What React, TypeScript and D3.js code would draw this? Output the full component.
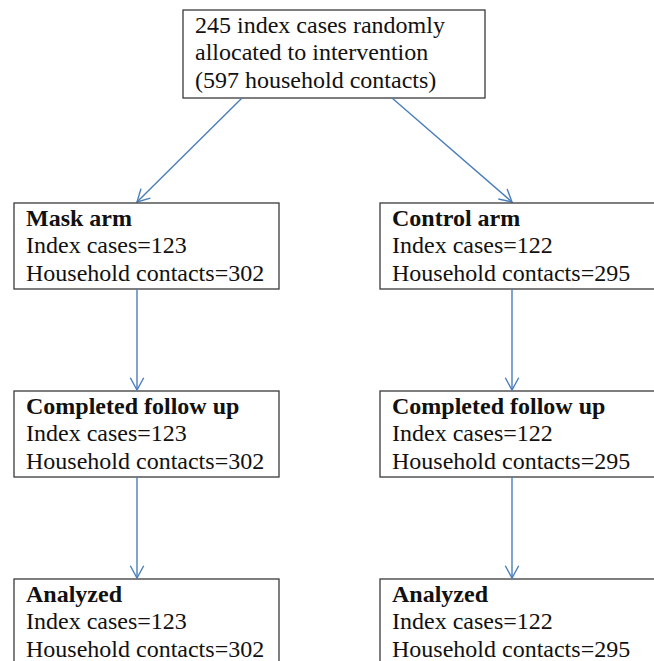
import React, { useEffect, useRef } from 'react';
import * as d3 from 'd3';

// flowchart content
const topLines = ['245 index cases randomly', 'allocated to intervention', '(597 household contacts)'];
const arms = ['Mask arm', 'Control arm'];
const stages = ['', 'Completed follow up', 'Analyzed'];
const indexCases = [123, 122];
const householdContacts = [302, 295];

const W = 654;
const H = 661;
const LINE = '#4a7ebb';
const BORDER = '#3a3a3a';
const FONT = '"Liberation Serif", "Times New Roman", serif';

export default function App() {
  const svgRef = useRef<SVGSVGElement>(null);

  useEffect(() => {
    if (!svgRef.current) return;
    const svg = d3.select(svgRef.current);
    svg.selectAll('*').remove();

    // layout: column left edges and row top edges
    const colX = d3.scaleOrdinal<number, number>().domain([0, 1]).range([14, 380]);
    const colW = d3.scaleOrdinal<number, number>().domain([0, 1]).range([265, 290]);
    const arrowX = d3.scaleOrdinal<number, number>().domain([0, 1]).range([137, 512]);
    const departX = d3.scaleOrdinal<number, number>().domain([0, 1]).range([242, 392]);
    const rowY = d3.scaleLinear().domain([0, 1]).range([203, 391]); // row i top = rowY(i)
    const boxH = 86;
    const lh = 27.5;

    const top = { x: 183, y: 10, w: 302, h: 88 };

    const drawBox = (x: number, y: number, w: number, h: number, lines: { t: string; bold?: boolean }[]) => {
      svg.append('rect')
        .attr('x', x).attr('y', y).attr('width', w).attr('height', h)
        .attr('fill', 'white').attr('stroke', BORDER).attr('stroke-width', 1.3);
      const txt = svg.append('text')
        .style('font-family', FONT).style('font-size', '24px').attr('fill', '#111');
      lines.forEach((l, i) => {
        txt.append('tspan')
          .attr('x', x + 12).attr('y', y + 22.5 + i * lh)
          .style('font-weight', l.bold ? 'bold' : 'normal')
          .text(l.t);
      });
    };

    const arrow = (x1: number, y1: number, x2: number, y2: number) => {
      svg.append('line')
        .attr('x1', x1).attr('y1', y1).attr('x2', x2).attr('y2', y2)
        .attr('stroke', LINE).attr('stroke-width', 1.4);
      const a = Math.atan2(y2 - y1, x2 - x1);
      const len = 14, spread = 0.5;
      const p = d3.path();
      p.moveTo(x2 - len * Math.cos(a - spread), y2 - len * Math.sin(a - spread));
      p.lineTo(x2, y2);
      p.lineTo(x2 - len * Math.cos(a + spread), y2 - len * Math.sin(a + spread));
      svg.append('path').attr('d', p.toString())
        .attr('fill', 'none').attr('stroke', LINE).attr('stroke-width', 1.4);
    };

    // top box
    drawBox(top.x, top.y, top.w, top.h, topLines.map(t => ({ t })));

    arms.forEach((arm, c) => {
      // from top box to arm box
      arrow(departX(c), top.y + top.h, arrowX(c), rowY(0) - 1);
      stages.forEach((stage, r) => {
        const y = rowY(r);
        const heading = r === 0 ? arm : stage;
        drawBox(colX(c), y, colW(c), boxH + (r === 2 ? 20 : 0), [
          { t: heading, bold: true },
          { t: `Index cases=${indexCases[c]}` },
          { t: `Household contacts=${householdContacts[c]}` },
        ]);
        if (r > 0) arrow(arrowX(c), rowY(r - 1) + boxH, arrowX(c), y - 1);
      });
    });
  }, []);

  return (
    <div style={{ position: 'fixed', left: 0, top: 0, width: W, height: H, background: 'white' }}>
      <svg ref={svgRef} width={W} height={H} />
    </div>
  );
}
